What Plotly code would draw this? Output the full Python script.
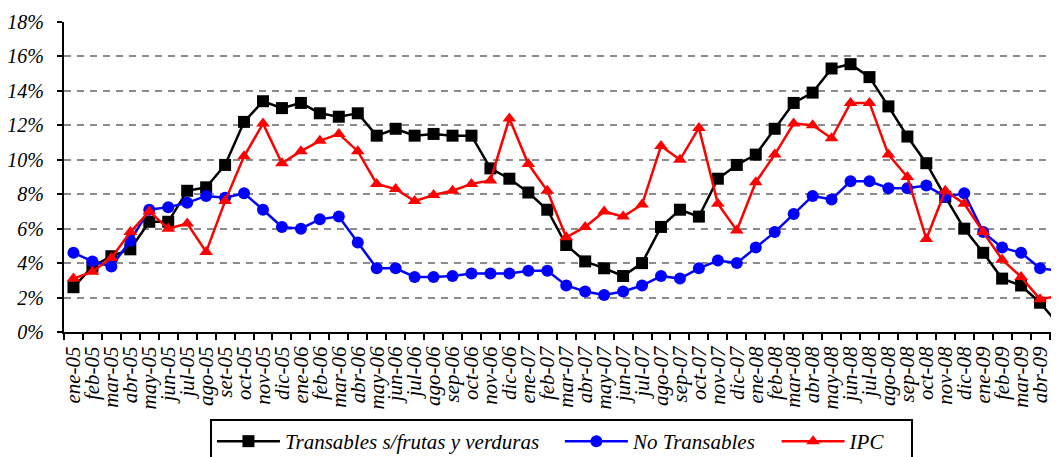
import plotly.graph_objects as go

# Monthly categories, ene-05 .. may-09
months = [
    "ene-05", "feb-05", "mar-05", "abr-05", "may-05", "jun-05", "jul-05", "ago-05", "set-05",
    "oct-05", "nov-05", "dic-05", "ene-06", "feb-06", "mar-06", "abr-06", "may-06", "jun-06",
    "jul-06", "ago-06", "sep-06", "oct-06", "nov-06", "dic-06", "ene-07", "feb-07", "mar-07",
    "abr-07", "may-07", "jun-07", "jul-07", "ago-07", "sep-07", "oct-07", "nov-07", "dic-07",
    "ene-08", "feb-08", "mar-08", "abr-08", "may-08", "jun-08", "jul-08", "ago-08", "sep-08",
    "oct-08", "nov-08", "dic-08", "ene-09", "feb-09", "mar-09", "abr-09", "may-09",
]

transables = [
    2.6, 3.8, 4.4, 4.8, 6.4, 6.4, 8.2, 8.4, 9.7, 12.2, 13.4, 13.0, 13.3, 12.7, 12.5, 12.7,
    11.4, 11.8, 11.4, 11.5, 11.4, 11.4, 9.5, 8.9, 8.1, 7.1, 5.05, 4.1, 3.7, 3.25, 4.0, 6.1,
    7.1, 6.7, 8.9, 9.7, 10.3, 11.8, 13.3, 13.9, 15.3, 15.55, 14.8, 13.1, 11.35, 9.8, 7.85,
    6.0, 4.6, 3.1, 2.7, 1.7, 0.4,
]

no_transables = [
    4.6, 4.1, 3.8, 5.3, 7.1, 7.25, 7.5, 7.9, 7.8, 8.05, 7.1, 6.1, 6.0, 6.55, 6.7, 5.2,
    3.7, 3.7, 3.2, 3.2, 3.25, 3.4, 3.4, 3.4, 3.55, 3.55, 2.7, 2.35, 2.15, 2.35, 2.7, 3.25,
    3.1, 3.7, 4.15, 4.0, 4.9, 5.8, 6.85, 7.9, 7.7, 8.75, 8.75, 8.35, 8.35, 8.5, 7.85,
    8.05, 5.8, 4.9, 4.6, 3.7, 3.55,
]

ipc = [
    3.1, 3.5, 4.3, 5.8, 7.0, 6.0, 6.3, 4.65, 7.6, 10.2, 12.1, 9.8, 10.5, 11.1, 11.5, 10.5,
    8.6, 8.3, 7.6, 7.95, 8.2, 8.6, 8.8, 12.4, 9.75, 8.2, 5.5, 6.1, 7.0, 6.7, 7.4, 10.8,
    10.0, 11.85, 7.45, 5.9, 8.7, 10.3, 12.1, 12.0, 11.25, 13.3, 13.3, 10.3, 9.0, 5.4, 8.2,
    7.45, 5.8, 4.2, 3.2, 1.9, 2.1,
]

y_ticks = [0, 2, 4, 6, 8, 10, 12, 14, 16, 18]

serif = dict(family="Liberation Serif, Times New Roman, serif", style="italic", color="black")
pad = "\u00a0"  # keeps the legend entries spaced like the original

fig = go.Figure()

fig.add_trace(go.Scatter(
    x=months, y=transables, name="Transables s/frutas y verduras" + pad * 3,
    mode="lines+markers",
    line=dict(color="black", width=2.5),
    marker=dict(symbol="square", size=12, color="black"),
))
fig.add_trace(go.Scatter(
    x=months, y=no_transables, name="No Transables" + pad * 3,
    mode="lines+markers",
    line=dict(color="#0000ff", width=2.5),
    marker=dict(symbol="circle", size=12, color="#0000ff"),
))
fig.add_trace(go.Scatter(
    x=months, y=ipc, name="IPC" + pad * 4,
    mode="lines+markers",
    line=dict(color="#ff0000", width=2.5),
    marker=dict(symbol="triangle-up", size=12, color="#ff0000"),
))

# page body adds an 8px offset; the legend's lower edge runs past the window like the original
fig.update_layout(
    width=1051, height=456,
    margin=dict(l=56, r=0, t=14, b=132),
    paper_bgcolor="white", plot_bgcolor="white",
    font=dict(**serif, size=20),
    showlegend=True,
    legend=dict(
        orientation="h",
        x=0.1467, xanchor="left",
        yref="container", y=0.0, yanchor="bottom",
        bordercolor="black", borderwidth=2,
        font=dict(**serif, size=21),
        itemwidth=63,
        traceorder="normal",
    ),
)

fig.update_xaxes(
    type="category",
    range=[-0.5, 52.0],
    tickmode="array", tickvals=months, ticktext=months,
    tickangle=-90,
    tickson="boundaries",
    ticks="outside", ticklen=6, tickwidth=2, tickcolor="black",
    showline=True, linecolor="black", linewidth=2,
    showgrid=False, zeroline=False,
    automargin=False,
    ticklabelstandoff=4,
    tickfont=dict(**serif, size=21),
)

fig.update_yaxes(
    range=[0, 18],
    tickmode="array", tickvals=y_ticks, ticktext=[f"{v}%" for v in y_ticks],
    ticks="outside", ticklen=5, tickwidth=2, tickcolor="black",
    showline=True, linecolor="black", linewidth=2,
    showgrid=True, gridcolor="#8c8c8c", gridwidth=2, griddash="7px,6px",
    zeroline=False,
    automargin=False,
    ticklabelstandoff=9,
    tickfont=dict(**serif, size=20),
)

fig.write_html("out.html")
